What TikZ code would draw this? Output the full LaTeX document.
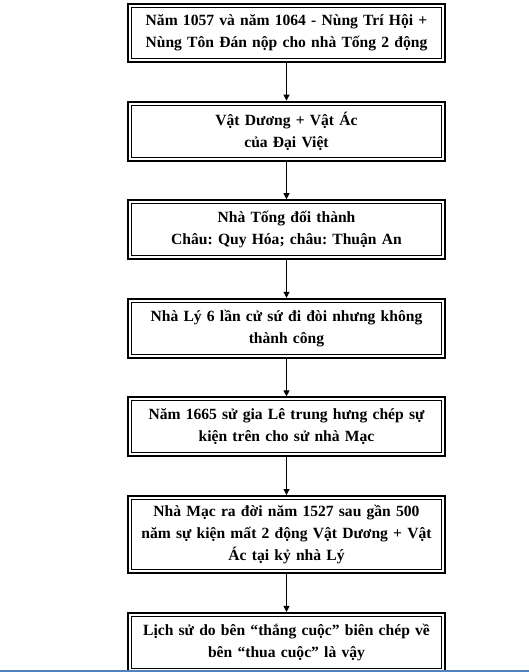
\documentclass[tikz,border=0pt]{standalone}
\usepackage{fontspec}
\setmainfont{Liberation Serif}
\usetikzlibrary{arrows.meta,positioning}
\frenchspacing

\begin{document}
\begin{tikzpicture}[
    x=0.75pt, y=-0.75pt,
    node distance=28.2pt,
    every node/.style={font=\fontsize{11.7}{16.5}\selectfont\bfseries},
    box/.style={draw, line width=1.5pt, align=center, minimum height=44.25pt, text width=238pt, inner xsep=0pt, inner ysep=2pt,
        path picture={\draw[line width=0.75pt] ([shift={(2.6pt,2.6pt)}]path picture bounding box.south west) rectangle ([shift={(-2.6pt,-2.6pt)}]path picture bounding box.north east);}},
    flow/.style={-{Triangle[length=4.5pt, width=4.5pt]}, line width=0.75pt}
]
\useasboundingbox (0,0) rectangle (529,672);
\node[box, minimum height=43.5pt, anchor=north] (nam) at (286.5,3) {Năm 1057 và năm 1064 - Nùng Trí Hội +\\Nùng Tôn Đán nộp cho nhà Tống 2 động};
\node[box, below=of nam] (vat) {Vật Dương + Vật Ác\\của Đại Việt};
\node[box, below=of vat] (tong) {Nhà Tống đối thành\\Châu: Quy Hóa; châu: Thuận An};
\node[box, below=of tong] (ly) {Nhà Lý 6 lần cử sứ đi đòi nhưng không\\thành công};
\node[box, below=of ly] (le) {Năm 1665 sử gia Lê trung hưng chép sự\\kiện trên cho sử nhà Mạc};
\node[box, minimum height=58pt, below=of le] (mac) {Nhà Mạc ra đời năm 1527 sau gần 500\\năm sự kiện mất 2 động Vật Dương + Vật\\Ác tại kỷ nhà Lý};
\node[box, minimum height=44.5pt, below=of mac] (lichsu) {Lịch sử do bên “thắng cuộc” biên chép về\\bên “thua cuộc” là vậy\vphantom{g}};
\draw[flow] (nam) -- (vat);
\draw[flow] (vat) -- (tong);
\draw[flow] (tong) -- (ly);
\draw[flow] (ly) -- (le);
\draw[flow] (le) -- (mac);
\draw[flow] (mac) -- (lichsu);
% page edge
\draw[line width=1.5pt, color={rgb,255:red,79;green,129;blue,189}] (0,671) -- (529,671);
\end{tikzpicture}
\end{document}
